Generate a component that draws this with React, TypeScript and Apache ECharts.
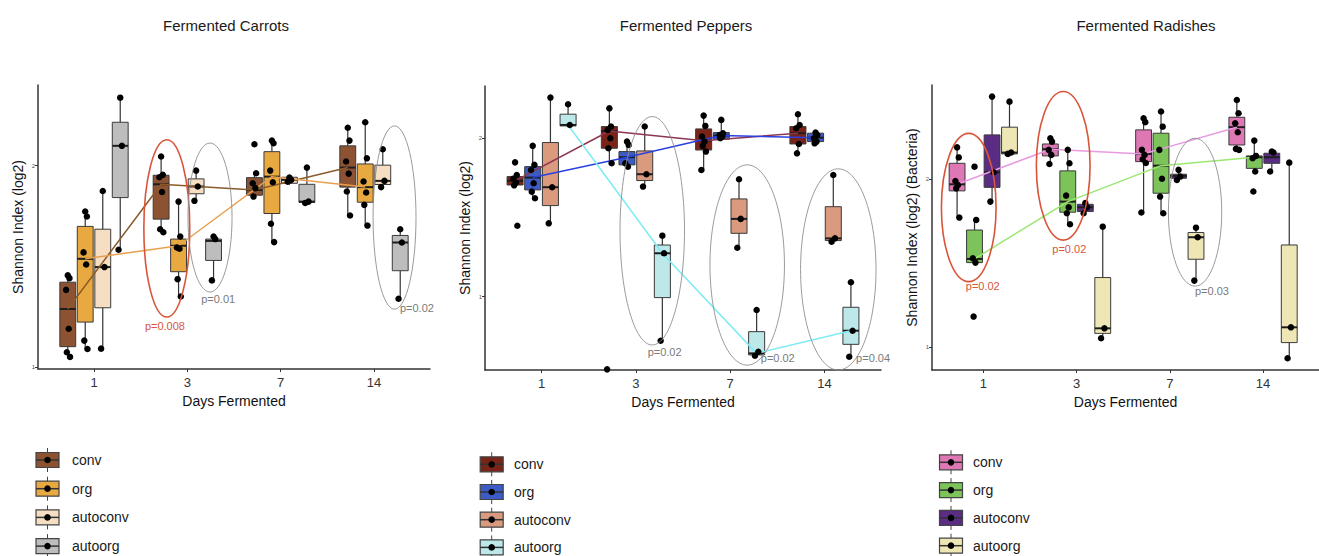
import React, { useEffect, useRef } from "react";
import * as echarts from "echarts";

const DAYS = ["1", "3", "7", "14"];
const GROUPS = ["conv", "org", "autoconv", "autoorg"];

// box stats per day: [lowerWhisker, Q1, median, Q3, upperWhisker]
const carrotConvStats = [[1.05, 1.101, 1.288, 1.421, 1.455], [1.669, 1.734, 1.907, 1.952, 2.045], [1.846, 1.853, 1.879, 1.94, 1.962], [1.752, 1.893, 1.99, 2.098, 2.188]];
const carrotOrgStats = [[1.089, 1.223, 1.537, 1.698, 1.772], [1.35, 1.473, 1.602, 1.635, 1.821], [1.62, 1.762, 1.945, 2.069, 2.124], [1.702, 1.818, 1.893, 2.008, 2.215]];
const carrotAutoconvStats = [[1.091, 1.294, 1.496, 1.684, 1.874], [1.825, 1.86, 1.896, 1.934, 1.975], [1.905, 1.912, 1.929, 1.942, 1.945], [1.893, 1.906, 1.924, 2.002, 2.081]];
const carrotAutoorgStats = [[1.582, 1.841, 2.098, 2.215, 2.337], [1.43, 1.529, 1.626, 1.635, 1.648], [1.817, 1.817, 1.821, 1.907, 1.99], [1.339, 1.478, 1.618, 1.653, 1.684]];

const carrotConvPts = [[1.455, 1.441, 1.383, 1.19, 1.073, 1.05], [2.045, 1.954, 1.942, 1.869, 1.684, 1.669], [2.106, 1.962, 1.912, 1.888, 1.846], [2.188, 2.124, 2.02, 1.96, 1.871, 1.752]];
const carrotOrgPts = [[1.772, 1.747, 1.569, 1.509, 1.131, 1.089], [1.821, 1.648, 1.593, 1.587, 1.436, 1.35], [2.124, 2.111, 1.975, 1.917, 1.711, 1.62], [2.215, 2.036, 1.921, 1.866, 1.805, 1.702]];
const carrotAutoconvPts = [[1.874, 1.496, 1.091], [1.975, 1.896, 1.825], [1.94, 1.929, 1.92], [2.081, 1.924, 1.893]];
const carrotAutoorgPts = [[2.337, 2.098, 1.582], [1.648, 1.635, 1.43], [1.99, 1.821, 1.814], [1.684, 1.618, 1.339]];

const pepperConvStats = [[1.695, 1.705, 1.731, 1.758, 1.768], [1.842, 1.937, 2.046, 2.074, 2.189], [1.8, 1.926, 1.985, 2.059, 2.143], [1.905, 1.964, 2.032, 2.074, 2.152]];
const pepperOrgStats = [[1.621, 1.674, 1.752, 1.821, 1.952], [1.82, 1.832, 1.88, 1.916, 1.979], [1.99, 1.994, 2.017, 2.036, 2.116], [1.974, 1.979, 2.004, 2.032, 2.036]];
const pepperAutoconvStats = [[1.463, 1.575, 1.691, 1.973, 2.257], [1.695, 1.733, 1.773, 1.92, 2.074], [1.309, 1.4, 1.491, 1.617, 1.741], [1.337, 1.354, 1.368, 1.568, 1.768]];
const pepperAutoorgStats = [[2.078, 2.078, 2.084, 2.152, 2.215], [0.722, 0.994, 1.274, 1.326, 1.385], [0.617, 0.632, 0.642, 0.779, 0.916], [0.621, 0.699, 0.785, 0.933, 1.091]];

const pepperConvPts = [[1.848, 1.768, 1.745, 1.72, 1.703, 1.448], [2.189, 2.074, 2.053, 2.0, 1.937, 1.842, 0.541], [2.143, 2.078, 2.011, 1.979, 1.952, 1.916, 1.8], [2.152, 2.084, 2.063, 1.964, 1.905]];
const pepperOrgPts = [[1.952, 1.832, 1.8, 1.716, 1.663, 1.621], [1.979, 1.958, 1.842, 1.82], [2.116, 2.032, 2.021, 2.011, 2.0], [2.036, 2.021, 2.0, 1.979, 1.968]];
const pepperAutoconvPts = [[2.257, 1.691, 1.463], [2.074, 1.773, 1.695], [1.741, 1.491, 1.309], [1.768, 1.368, 1.347]];
const pepperAutoorgPts = [[2.215, 2.084], [1.385, 1.274, 0.722], [0.916, 0.652, 0.627], [1.091, 0.785, 0.621]];

const radishConvStats = [[1.772, 1.931, 1.97, 2.095, 2.19], [2.091, 2.139, 2.179, 2.21, 2.244], [1.802, 2.105, 2.151, 2.294, 2.363], [2.175, 2.204, 2.31, 2.369, 2.472]];
const radishOrgStats = [[1.504, 1.504, 1.526, 1.698, 1.758], [1.732, 1.804, 1.867, 2.05, 2.175], [1.798, 1.917, 2.081, 2.274, 2.403], [2.046, 2.065, 2.131, 2.139, 2.23]];
const radishAutoconvStats = [[1.867, 1.952, 2.042, 2.264, 2.492], [1.798, 1.808, 1.833, 1.851, 1.869], [1.992, 2.006, 2.02, 2.03, 2.056], [2.046, 2.095, 2.131, 2.155, 2.165]];
const radishAutoorgStats = [[2.151, 2.151, 2.159, 2.31, 2.462], [1.054, 1.083, 1.113, 1.415, 1.718], [1.397, 1.524, 1.655, 1.683, 1.712], [0.935, 1.028, 1.119, 1.609, 2.099]];

const radishConvPts = [[2.19, 2.13, 1.99, 1.966, 1.946, 1.772], [2.244, 2.224, 2.175, 2.145, 2.091], [2.363, 2.34, 2.175, 2.145, 2.119, 2.097, 1.802], [2.472, 2.393, 2.333, 2.28, 2.181, 2.175]];
const radishOrgPts = [[2.075, 1.758, 1.53, 1.504, 1.183], [2.175, 2.095, 1.903, 1.833, 1.798, 1.732], [2.403, 2.313, 2.175, 2.003, 1.897, 1.798], [2.23, 2.139, 2.125, 2.046, 1.927]];
const radishAutoconvPts = [[2.492, 2.042, 1.867], [1.859, 1.833, 1.798], [2.056, 2.016, 1.996], [2.165, 2.159, 2.046]];
const radishAutoorgPts = [[2.462, 2.159, 2.151], [1.718, 1.113, 1.054], [1.712, 1.655, 1.397], [2.099, 1.119, 0.935]];

// significance annotations: ellipse centre/radii in axis units, label text
const carrotSig = [
  { cx: 1.78, cy: 1.688, rx: 0.246, ry: 0.44, red: true, label: "p=0.008", lx: 1.76, ly: 1.205 },
  { cx: 2.243, cy: 1.742, rx: 0.236, ry: 0.37, red: false, label: "p=0.01", lx: 2.33, ly: 1.34 },
  { cx: 4.22, cy: 1.742, rx: 0.23, ry: 0.455, red: false, label: "p=0.02", lx: 4.46, ly: 1.295 },
];
const pepperSig = [
  { cx: 2.174, cy: 1.416, rx: 0.342, ry: 0.721, red: false, label: "p=0.02", lx: 2.305, ly: 0.65 },
  { cx: 3.181, cy: 1.2, rx: 0.395, ry: 0.632, red: false, label: "p=0.02", lx: 3.505, ly: 0.61 },
  { cx: 4.147, cy: 1.172, rx: 0.4, ry: 0.635, red: false, label: "p=0.04", lx: 4.516, ly: 0.61 },
];
const radishSig = [
  { cx: 0.844, cy: 1.832, rx: 0.293, ry: 0.441, red: true, label: "p=0.02", lx: 0.994, ly: 1.362 },
  { cx: 1.857, cy: 2.08, rx: 0.288, ry: 0.442, red: true, label: "p=0.02", lx: 1.922, ly: 1.586 },
  { cx: 3.271, cy: 1.804, rx: 0.286, ry: 0.44, red: false, label: "p=0.03", lx: 3.452, ly: 1.334 },
];

const FONT = "'Liberation Sans', Arial, Helvetica, sans-serif";
const DODGE = [-0.281, -0.094, 0.094, 0.281];
const BOX_W = 0.17;
const JIT = [0, 0.018, -0.018, 0.01, -0.01, 0.024, -0.024];

const panels = [
  {
    title: "Fermented Carrots", titleX: 226, yName: "Shannon Index (log2)",
    stats: [carrotConvStats, carrotOrgStats, carrotAutoconvStats, carrotAutoorgStats],
    points: [carrotConvPts, carrotOrgPts, carrotAutoconvPts, carrotAutoorgPts],
    colors: ["#8c5232", "#e8a940", "#f6dec3", "#bdbdbd"],
    lines: [{ g: 0, color: "#8b5a2b" }, { g: 1, color: "#e8a050" }],
    sig: carrotSig,
    grid: { left: 38, top: 85, width: 392, height: 284 },
    xr: [0.4, 4.6], yr: [0.99, 2.4],
    legend: { x: 47.5, y0: 460, dy: 28.7, tx: 72 },
  },
  {
    title: "Fermented Peppers", titleX: 686, yName: "Shannon Index (log2)",
    stats: [pepperConvStats, pepperOrgStats, pepperAutoconvStats, pepperAutoorgStats],
    points: [pepperConvPts, pepperOrgPts, pepperAutoconvPts, pepperAutoorgPts],
    colors: ["#7a2318", "#3d5bc4", "#d99a7e", "#bde8ea"],
    lines: [{ g: 0, color: "#8e3550" }, { g: 1, color: "#2a40e0" }, { g: 3, color: "#7eecf4" }],
    sig: pepperSig,
    grid: { left: 485, top: 86, width: 396, height: 284 },
    xr: [0.4, 4.6], yr: [0.537, 2.33],
    legend: { x: 491.7, y0: 464.3, dy: 27.7, tx: 514 },
  },
  {
    title: "Fermented Radishes", titleX: 1146, yName: "Shannon Index (log2) (Bacteria)",
    stats: [radishConvStats, radishOrgStats, radishAutoconvStats, radishAutoorgStats],
    points: [radishConvPts, radishOrgPts, radishAutoconvPts, radishAutoorgPts],
    colors: ["#de78b4", "#7cc45a", "#5b2c83", "#eee7b5"],
    lines: [{ g: 0, color: "#e89be0" }, { g: 1, color: "#9be870" }],
    sig: radishSig,
    grid: { left: 932, top: 85, width: 397, height: 285 },
    xr: [0.45, 4.6], yr: [0.865, 2.561],
    legend: { x: 951, y0: 462.3, dy: 27.8, tx: 973 },
  },
];

function buildOption() {
  const grid: any[] = [];
  const xAxis: any[] = [];
  const yAxis: any[] = [];
  const series: any[] = [];
  const graphic: any[] = [];

  panels.forEach((p, pi) => {
    grid.push({ ...p.grid });
    xAxis.push({
      gridIndex: pi, type: "value", min: p.xr[0], max: p.xr[1],
      axisLine: { show: true, lineStyle: { color: "#333", width: 1.5 } },
      axisTick: { show: true, customValues: [1, 2, 3, 4], length: 3, lineStyle: { color: "#333" } },
      axisLabel: { customValues: [1, 2, 3, 4], formatter: (v: number) => DAYS[Math.round(v) - 1], fontSize: 13, color: "#333", margin: 7, fontFamily: FONT },
      splitLine: { show: false },
      name: "Days Fermented", nameLocation: "middle", nameGap: 24,
      nameTextStyle: { fontSize: 14, color: "#111", fontFamily: FONT },
    });
    yAxis.push({
      gridIndex: pi, type: "value", min: p.yr[0], max: p.yr[1],
      axisLine: { show: true, lineStyle: { color: "#333", width: 1.5 } },
      axisTick: { show: true, customValues: [1, 2], length: 3, lineStyle: { color: "#333" } },
      axisLabel: { customValues: [1, 2], fontSize: 6, color: "#555", margin: 3, fontFamily: FONT },
      splitLine: { show: false },
      name: p.yName, nameLocation: "middle", nameGap: 13,
      nameTextStyle: { fontSize: 14, color: "#111", fontFamily: FONT },
    });

    // boxes
    p.stats.forEach((st, g) => {
      const color = p.colors[g];
      series.push({
        type: "custom", name: `${p.title} ${GROUPS[g]}`, xAxisIndex: pi, yAxisIndex: pi, z: 2,
        itemStyle: { color },
        encode: { x: 0, y: [1, 2, 3, 4, 5] },
        data: st.map((s, d) => [d + 1 + DODGE[g], ...s]),
        renderItem: (params: any, api: any) => {
          const x = api.value(0);
          const lo = api.coord([x, api.value(1)]);
          const q1 = api.coord([x, api.value(2)]);
          const md = api.coord([x, api.value(3)]);
          const q3 = api.coord([x, api.value(4)]);
          const hi = api.coord([x, api.value(5)]);
          const l = api.coord([x - BOX_W / 2, api.value(3)]);
          const r = api.coord([x + BOX_W / 2, api.value(3)]);
          const w = r[0] - l[0];
          return {
            type: "group",
            children: [
              { type: "line", shape: { x1: hi[0], y1: hi[1], x2: q3[0], y2: q3[1] }, style: { stroke: "#333", lineWidth: 1.2 } },
              { type: "line", shape: { x1: q1[0], y1: q1[1], x2: lo[0], y2: lo[1] }, style: { stroke: "#333", lineWidth: 1.2 } },
              { type: "rect", shape: { x: l[0], y: q3[1], width: w, height: Math.max(1, q1[1] - q3[1]) }, style: { fill: color, stroke: "#3a3a3a", lineWidth: 1 } },
              { type: "line", shape: { x1: l[0], y1: md[1], x2: r[0], y2: md[1] }, style: { stroke: "#1e1e1e", lineWidth: 2 } },
            ],
          };
        },
      });
    });

    // median trend lines
    p.lines.forEach((ln) => {
      series.push({
        type: "line", xAxisIndex: pi, yAxisIndex: pi, z: 3, showSymbol: false, silent: true,
        itemStyle: { color: ln.color },
        lineStyle: { color: ln.color, width: 1.5 },
        data: p.stats[ln.g].map((s, d) => [d + 1 + DODGE[ln.g], s[2]]),
      });
    });

    // points
    const pts: number[][] = [];
    p.points.forEach((grp, g) => grp.forEach((vals, d) => vals.forEach((v, k) => pts.push([d + 1 + DODGE[g] + JIT[k % JIT.length], v]))));
    series.push({
      type: "scatter", xAxisIndex: pi, yAxisIndex: pi, z: 4, symbolSize: 6.5, silent: true,
      itemStyle: { color: "#000", opacity: 1 }, data: pts,
    });

    // significance ellipses
    const sig = p.sig;
    series.push({
      type: "custom", xAxisIndex: pi, yAxisIndex: pi, z: 5, silent: true,
      itemStyle: { color: "#7a7a7a" },
      data: sig.map((s) => [s.cx, s.cy]),
      renderItem: (params: any, api: any) => {
        const s = sig[params.dataIndex];
        const a = api.coord([s.cx - s.rx, s.cy + s.ry]);
        const b = api.coord([s.cx + s.rx, s.cy - s.ry]);
        const t = api.coord([s.lx, s.ly]);
        return {
          type: "group",
          children: [
            { type: "ellipse", shape: { cx: (a[0] + b[0]) / 2, cy: (a[1] + b[1]) / 2, rx: Math.abs(b[0] - a[0]) / 2, ry: Math.abs(b[1] - a[1]) / 2 }, style: { fill: "none", stroke: s.red ? "#d9553a" : "#8f8f8f", lineWidth: s.red ? 1.6 : 0.9 } },
            { type: "text", x: t[0], y: t[1], style: { text: s.label, fill: s.red ? "#d9553a" : "#7a7a7a", stroke: "none", lineWidth: 0, fontSize: 11, fontFamily: FONT, align: "center", verticalAlign: "middle" } },
          ],
        };
      },
    });

    // title
    graphic.push({ type: "text", x: p.titleX, y: 25, style: { text: p.title, fill: "#1a1a1a", fontSize: 15, fontFamily: FONT, align: "center", verticalAlign: "middle" } });

    // legend
    GROUPS.forEach((name, g) => {
      const cx = p.legend.x;
      const cy = p.legend.y0 + g * p.legend.dy;
      graphic.push({ type: "line", shape: { x1: cx, y1: cy - 12, x2: cx, y2: cy + 12 }, style: { stroke: "#444", lineWidth: 1 } });
      graphic.push({ type: "rect", shape: { x: cx - 11.5, y: cy - 7.5, width: 23, height: 15 }, style: { fill: p.colors[g], stroke: "#444", lineWidth: 1.2 } });
      graphic.push({ type: "line", shape: { x1: cx - 11.5, y1: cy, x2: cx + 11.5, y2: cy }, style: { stroke: "#333", lineWidth: 1.5 } });
      graphic.push({ type: "circle", shape: { cx, cy, r: 3.3 }, style: { fill: "#000" } });
      graphic.push({ type: "text", x: p.legend.tx, y: cy, style: { text: name, fill: "#1a1a1a", fontSize: 14, fontFamily: FONT, verticalAlign: "middle" } });
    });
  });

  return { animation: false, backgroundColor: "#fff", grid, xAxis, yAxis, series, graphic };
}

export default function App() {
  const ref = useRef<HTMLDivElement>(null);
  useEffect(() => {
    if (!ref.current) return;
    const chart = echarts.init(ref.current, undefined, { renderer: "svg" });
    chart.setOption(buildOption() as any);
    return () => chart.dispose();
  }, []);
  return <div ref={ref} style={{ position: "absolute", left: 0, top: 0, width: 1319, height: 556, background: "#fff" }} />;
}
